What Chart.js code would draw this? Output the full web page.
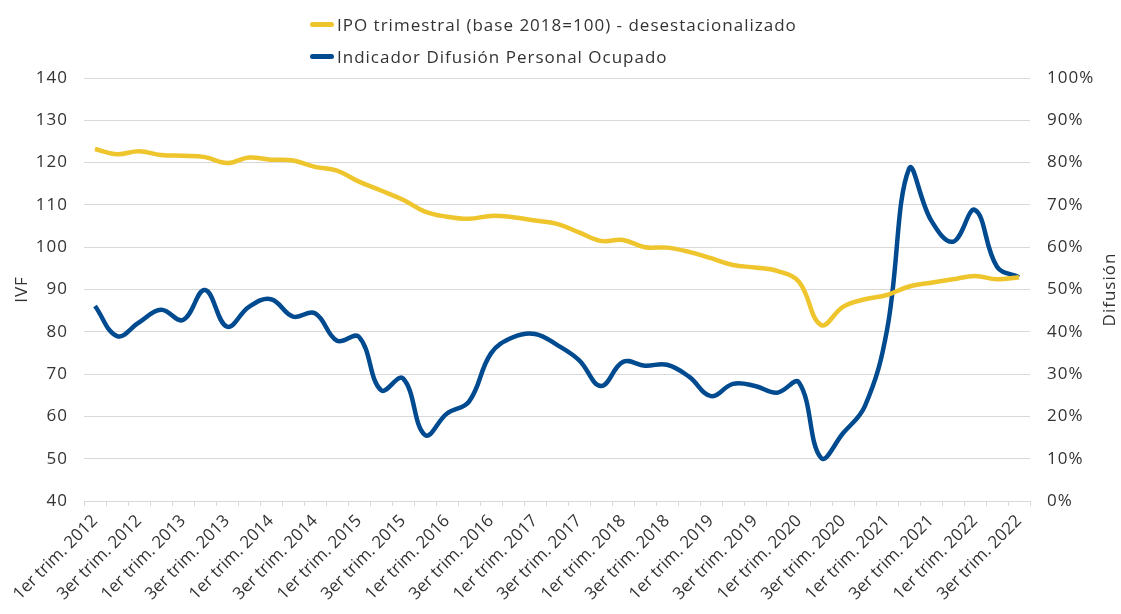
<!DOCTYPE html>
<html>
<head>
<meta charset="utf-8">
<script src="https://cdn.jsdelivr.net/npm/chart.js@4"></script>
<style>
  body { margin: 0; background: #fff; }
  #wrap { position: relative; width: 1121px; height: 614px; }
  #legend { position: absolute; left: 310px; top: 8px; font-family: "Open Sans", sans-serif; font-size: 17px; letter-spacing: 1px; color: #333; }
  .item { display: flex; align-items: center; height: 32px; }
  .mark { width: 24px; height: 5px; border-radius: 3px; margin-right: 3px; }
</style>
</head>
<body>
<div id="wrap">
  <canvas id="chart"></canvas>
  <div id="legend"></div>
</div>
<script>
// Quarter labels
const quarters = ['1er trim.', '2do trim.', '3er trim.', '4to trim.'];
const years = [2012, 2013, 2014, 2015, 2016, 2017, 2018, 2019, 2020, 2021, 2022];
const labels = [];
years.forEach(y => quarters.forEach(q => labels.push(q + ' ' + y)));
labels.length = 43; // up to 3er trim. 2022

// IPO trimestral (base 2018=100), left axis
const ipo = [123.2, 122.0, 122.7, 121.8, 121.6, 121.3, 119.9, 121.2, 120.7, 120.5,
             119.0, 118.1, 115.5, 113.4, 111.2, 108.4, 107.2, 106.7, 107.4, 107.1,
             106.3, 105.5, 103.5, 101.5, 101.7, 100.0, 99.9, 98.9, 97.4, 95.8,
             95.2, 94.4, 91.8, 81.6, 85.9, 87.7, 88.7, 90.7, 91.6, 92.4,
             93.2, 92.4, 92.9];

// Indicador difusion personal ocupado (%), right axis
const difusion = [46.1, 39.0, 42.2, 45.2, 42.8, 49.9, 41.2, 45.9, 47.7, 43.6,
                  44.4, 37.9, 38.8, 26.2, 29.0, 15.6, 20.7, 23.5, 34.9, 38.7,
                  39.5, 36.9, 33.3, 27.2, 32.9, 32.0, 32.2, 29.4, 24.8, 27.7,
                  27.2, 25.6, 28.0, 10.2, 16.0, 22.5, 40.4, 78.5, 66.4, 61.3,
                  68.8, 55.4, 52.9];

const yellow = '#EEC52C';
const blue = '#004A8F';
const textColor = '#333333';
const gridColor = '#d9d9d9';
const font = { family: '"Open Sans", sans-serif', size: 17 };

// html legend, two rows
const legendItems = [
  { text: 'IPO trimestral (base 2018=100) - desestacionalizado', color: yellow },
  { text: 'Indicador Difusión Personal Ocupado', color: blue }
];
document.getElementById('legend').innerHTML = legendItems.map(it =>
  '<div class="item"><span class="mark" style="background:' + it.color + '"></span>' + it.text + '</div>'
).join('');

// wider text, closer to the original font
const spacing = {
  id: 'spacing',
  beforeDraw(chart) { chart.ctx.letterSpacing = '1px'; }
};

// right axis title reads bottom to top like the left one
const rightTitle = {
  id: 'rightTitle',
  afterDraw(chart) {
    const c = chart.ctx;
    const area = chart.chartArea;
    c.save();
    c.translate(1110, (area.top + area.bottom) / 2);
    c.rotate(-Math.PI / 2);
    c.font = '17px "Open Sans", sans-serif';
    c.fillStyle = textColor;
    c.textAlign = 'center';
    c.textBaseline = 'middle';
    c.fillText('Difusión', 0, 0);
    c.restore();
  }
};

// x labels keep normal spacing
function plainLabels(s) {
  if (s._plain) return;
  const orig = s.drawLabels.bind(s);
  s.drawLabels = function (area) {
    const prev = this.ctx.letterSpacing;
    this.ctx.letterSpacing = '0px';
    orig(area);
    this.ctx.letterSpacing = prev;
  };
  s._plain = true;
}

const ctx = document.getElementById('chart').getContext('2d');
new Chart(ctx, {
  type: 'line',
  data: {
    labels: labels,
    datasets: [
      {
        label: 'IPO trimestral (base 2018=100) - desestacionalizado',
        data: ipo,
        borderColor: yellow,
        backgroundColor: yellow,
        borderWidth: 4.5,
        pointRadius: 0,
        tension: 0.4,
        yAxisID: 'y'
      },
      {
        label: 'Indicador Difusión Personal Ocupado',
        data: difusion,
        borderColor: blue,
        backgroundColor: blue,
        borderWidth: 4.5,
        pointRadius: 0,
        tension: 0.4,
        yAxisID: 'y1'
      }
    ]
  },
  options: {
    responsive: true,
    maintainAspectRatio: false,
    animation: false,
    layout: { padding: { top: 78, left: 0, right: 0, bottom: 0 } },
    plugins: {
      legend: { display: false },
      tooltip: { enabled: false }
    },
    scales: {
      x: {
        offset: true,
        grid: { drawOnChartArea: false, drawTicks: true, tickLength: 5, color: gridColor, offset: true },
        border: { color: gridColor },
        ticks: {
          autoSkip: false,
          maxRotation: 45,
          minRotation: 45,
          color: textColor,
          font: font,
          padding: 5,
          callback: function (v, i) { return i % 2 === 0 ? this.getLabelForValue(v) : ''; }
        },
        afterFit: s => { s.height = 113; plainLabels(s); }
      },
      y: {
        position: 'left',
        min: 40,
        max: 140,
        ticks: { stepSize: 10, color: textColor, font: font, padding: 16 },
        grid: { color: gridColor, drawTicks: false },
        border: { display: false },
        title: { display: true, text: 'IVF', color: textColor, font: font, padding: { top: 12, bottom: 0 } },
        afterFit: s => { s.width = 84; }
      },
      y1: {
        position: 'right',
        min: 0,
        max: 100,
        ticks: { stepSize: 10, color: textColor, font: font, padding: 17, callback: v => v + '%' },
        grid: { drawOnChartArea: false, drawTicks: false },
        border: { display: false },
        afterFit: s => { s.width = 91; }
      }
    }
  },
  plugins: [spacing, rightTitle]
});
</script>
</body>
</html>
